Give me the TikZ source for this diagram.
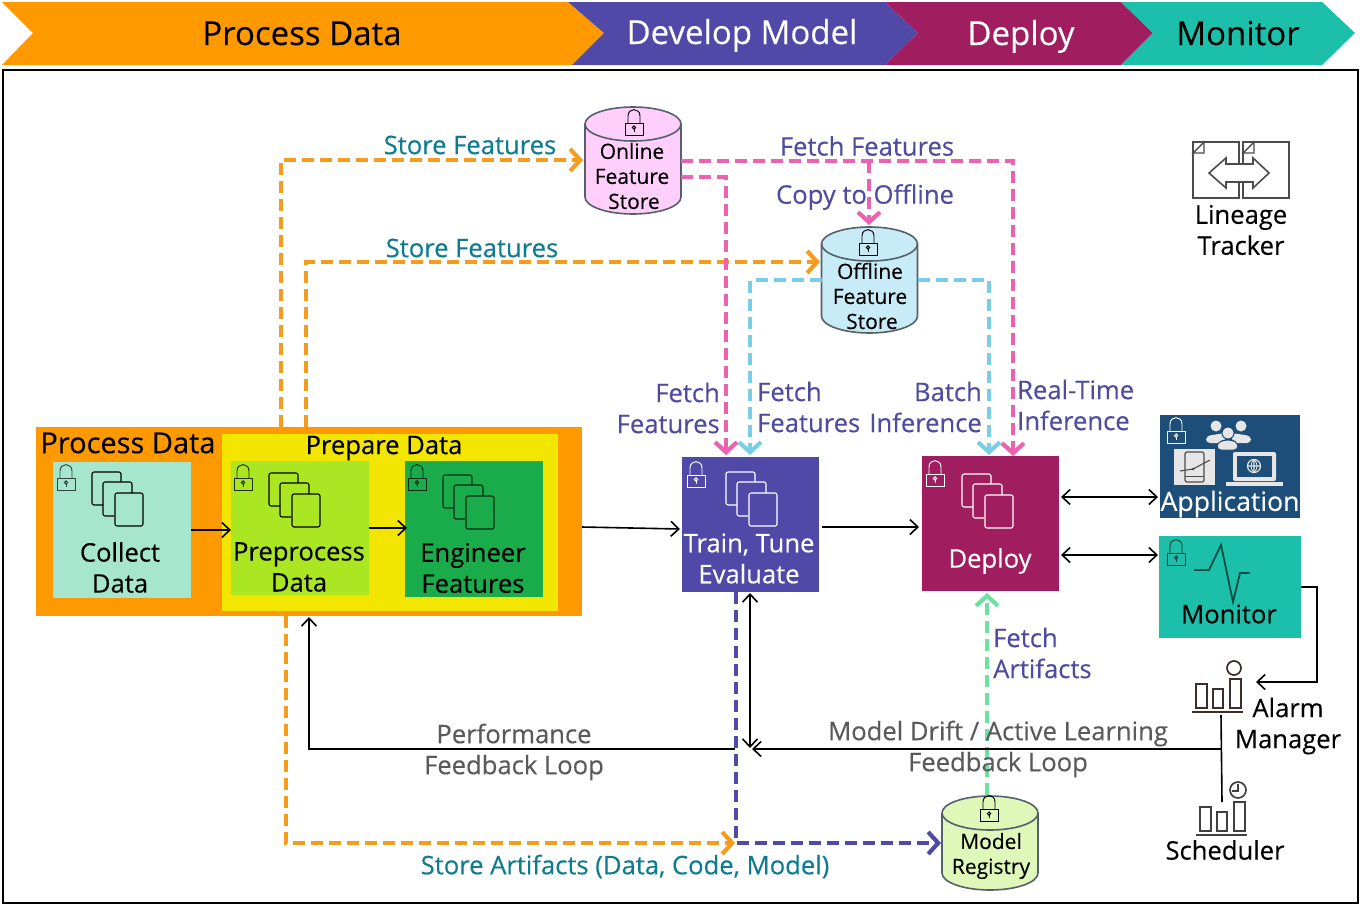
\documentclass[tikz,border=0pt]{standalone}
\usepackage{fontspec}
\setmainfont{Open Sans}[RawFeature={embolden=0.25}]
\usetikzlibrary{arrows.meta}
\definecolor{cOrange}{HTML}{FF9900}
\definecolor{cDash}{HTML}{F59C1E}
\definecolor{cPurple}{HTML}{5149A8}
\definecolor{cDeploy}{HTML}{A01E5F}
\definecolor{cMon}{HTML}{1CBFA9}
\definecolor{cPink}{HTML}{EC62B0}
\definecolor{cSky}{HTML}{79CDE6}
\definecolor{cGreen}{HTML}{6EE09F}
\definecolor{cTeal}{HTML}{0E7C90}
\definecolor{cFetch}{HTML}{4F4CA0}
\definecolor{cGray}{HTML}{5A5A5A}
\definecolor{cApp}{HTML}{1D4E79}
\definecolor{cIcon}{HTML}{3A2E2A}
\definecolor{cPrep}{HTML}{F2E600}
\definecolor{cCollect}{HTML}{A6E6CF}
\definecolor{cPre}{HTML}{ABE622}
\definecolor{cEng}{HTML}{1AAB4A}
\definecolor{cOnline}{HTML}{FFCFFB}
\definecolor{cOffline}{HTML}{C8ECF7}
\definecolor{cReg}{HTML}{DFF7B9}
\definecolor{cLight}{HTML}{E6E6E6}
\definecolor{cEdge}{HTML}{55606A}
\newcommand\fsz[2]{\fontsize{#1}{#2}\selectfont}
\tikzset{
  boxn/.style={anchor=north west,inner sep=0pt,outer sep=0pt,fill=#1},
  dbn/.style={anchor=north west,inner sep=0pt,outer sep=0pt,minimum width=96pt,minimum height=#1},
  band/.style={fill=#1,draw=none},
  head/.style={font=\fsz{33}{38},text=#1,inner sep=0pt,anchor=base},
  lbl/.style={font=\fsz{25.6}{31},align=center,text=#1,inner sep=0pt},
  dbl/.style={font=\fsz{21}{25},align=center,inner sep=0pt,text=black},
  arr/.style={draw=black,line width=1.6pt,-{Straight Barb[length=8pt,width=15pt,line width=1.6pt]}},
  darr/.style={draw=black,line width=1.6pt,{Straight Barb[length=8pt,width=15pt,line width=1.6pt]}-{Straight Barb[length=8pt,width=15pt,line width=1.6pt]}},
  plain/.style={draw=black,line width=1.6pt},
  dsh/.style={draw=#1,line width=4pt,dash pattern=on 12pt off 6pt,-{Straight Barb[length=10pt,width=22pt,line width=4.2pt]}}
}
% cylinder drawn over the named node #1: fill colour #2, height #3
\newcommand\dbcyl[3]{%
  \filldraw[fill=#2,draw=cEdge,line width=1.6pt] (#1.north west) ++(0,17)
    .. controls +(0,-9.4) and +(-26.5,0) .. ++(48,-17)
    .. controls +(26.5,0) and +(0,-9.4) .. ++(48,17)
    -- ++(0,#3-34)
    .. controls +(0,9.4) and +(26.5,0) .. ++(-48,17)
    .. controls +(-26.5,0) and +(0,9.4) .. ++(-48,-17)
    -- cycle;
  \draw[draw=cEdge,line width=1.6pt] (#1.north west) ++(0,17)
    .. controls +(0,9.4) and +(-26.5,0) .. ++(48,17)
    .. controls +(26.5,0) and +(0,9.4) .. ++(48,-17);
}
\newcommand\lockicon[3]{\begin{scope}[shift={(#1,#2)},draw=#3,line width=.95pt]
  \draw (0,13) rectangle (18,25);
  \draw (3,13) -- (3,6) .. controls (3,-2.5) and (15,-2.5) .. (15,6) -- (15,13);
  \draw (9,17.5) circle[radius=1.6pt];
  \draw (9,19.1) -- (9,22);
\end{scope}}
\newcommand\stackicon[3]{\begin{scope}[shift={(#1,#2)},draw=#3,line width=1.1pt,rounded corners=2pt]
  \draw (11,33) -- (0,33) -- (0,0) -- (29,0) -- (29,10);
  \draw (22,44) -- (11,44) -- (11,10) -- (40,10) -- (40,21);
  \draw (23,21) rectangle (51,54);
\end{scope}}
\newcommand\barsicon[3]{\begin{scope}[shift={(#1,#2)},draw=#3,line width=1.7pt]
  \draw (0,33) -- (51,33);
  \draw (4,29) rectangle (15,5);
  \draw (21,29) rectangle (31,10);
  \draw (38,29) rectangle (49,0);
\end{scope}}
\begin{document}
\begin{tikzpicture}[x=1pt,y=-1pt]
\useasboundingbox (0,0) rectangle (1362,905);
\fill[white] (0,0) rectangle (1362,905);
% phase band
\path[band=cOrange] (2,2) -- (568,2) -- (604,33) -- (572,65) -- (2,65) -- (33,33) -- cycle;
\path[band=cPurple] (568,2) -- (885,2) -- (918,33) -- (885,65) -- (572,65) -- (604,33) -- cycle;
\path[band=cDeploy] (885,2) -- (1121,2) -- (1153,33) -- (1121,65) -- (885,65) -- (918,33) -- cycle;
\path[band=cMon] (1121,2) -- (1322,2) -- (1355,33) -- (1322,65) -- (1121,65) -- (1153,33) -- cycle;
\node[head=black] (hProcess) at (302,45) {Process Data};
\node[head=white] (hDevelop) at (742,44) {Develop Model};
\node[head=white] (hDeploy) at (1021,45) {Deploy};
\node[head=black] (hMonitor) at (1238,45) {Monitor};
% frame
\draw[black,line width=2pt] (2.5,69.5) rectangle (1358,902.5);
% boxes
\node[boxn=cOrange,minimum width=546pt,minimum height=189pt] (proc) at (36,427) {};
\node[boxn=cPrep,minimum width=336pt,minimum height=177pt] (prep) at (222,434) {};
\node[boxn=cCollect,minimum width=138pt,minimum height=136pt] (collect) at (53,462) {};
\node[boxn=cPre,minimum width=138pt,minimum height=134pt] (preproc) at (231,461) {};
\node[boxn=cEng,minimum width=138pt,minimum height=136pt] (engineer) at (405,461) {};
\node[boxn=cPurple,minimum width=137pt,minimum height=135pt] (train) at (682,457) {};
\node[boxn=cDeploy,minimum width=137pt,minimum height=135pt] (deploy) at (922,456) {};
\node[boxn=cApp,minimum width=140pt,minimum height=103pt] (app) at (1160,415) {};
\node[boxn=cMon,minimum width=142pt,minimum height=102pt] (monitor) at (1159,536) {};
% cylinders
\node[dbn=107pt] (online) at (585,107) {};
\node[dbn=106pt] (offline) at (821.5,227) {};
\node[dbn=94pt] (registry) at (942,796) {};
\dbcyl{online}{cOnline}{107}
\dbcyl{offline}{cOffline}{106}
\dbcyl{registry}{cReg}{94}
% icons
\stackicon{92}{472}{black}
\stackicon{269}{473}{black}
\stackicon{443}{475}{black!75!cEng}
\stackicon{726}{472}{white}
\stackicon{962}{474}{white}
\lockicon{57}{465}{black!70!cCollect}
\lockicon{234}{465}{black!80!cPre}
\lockicon{408}{465}{black!75!cEng}
\lockicon{687}{462}{white}
\lockicon{926}{461}{white}
\lockicon{625}{110}{black}
\lockicon{859}{230}{black}
\lockicon{980}{796}{black}
\lockicon{1167}{418}{white}
\lockicon{1167}{540}{black!70!cMon}
% application artwork
\fill[cLight] (1216,426) circle[radius=5.5pt] (1241,426) circle[radius=5.5pt];
\fill[cLight,rounded corners=4pt] (1206,443) -- (1206,436) -- (1225,433) -- (1225,443) -- cycle;
\fill[cLight,rounded corners=4pt] (1251,443) -- (1251,436) -- (1232,433) -- (1232,443) -- cycle;
\fill[cLight,draw=cApp,line width=1pt] (1228,433) circle[radius=6pt];
\fill[cLight,draw=cApp,line width=1pt,rounded corners=4pt] (1217,450) -- (1217,443) -- (1224,440) -- (1232,440) -- (1238,443) -- (1238,450) -- cycle;
\fill[cLight] (1174,449) rectangle (1215,485);
\draw[black!70,line width=1.2pt,rounded corners=2pt] (1185,452) rectangle (1204,482);
\draw[black!70,line width=1pt] (1185,476) -- (1204,476);
\draw[black!70,line width=1.1pt] (1180,471) -- (1193,469) -- (1210,460);
\fill[black!70] (1193,469) circle[radius=1.5pt];
\fill[cLight,rounded corners=2pt] (1233,452) rectangle (1276,481);
\fill[cApp] (1237,456) rectangle (1272,477);
\fill[cLight] (1226,482) rectangle (1283,486);
\draw[cLight,line width=1.2pt] (1254,466) circle[radius=6.5pt] (1247.5,466) -- (1260.5,466) (1254,459.5) -- (1254,472.5);
\draw[cLight,line width=.8pt] (1254,459.5) .. controls (1250,463) and (1250,469) .. (1254,472.5) (1254,459.5) .. controls (1258,463) and (1258,469) .. (1254,472.5);
% monitor graph
\draw[black!60!cMon,line width=1.8pt] (1194,570) -- (1209,570) -- (1221,545) -- (1233,602) -- (1240,573) -- (1250,573);
% alarm + scheduler icons
\barsicon{1192}{679}{cIcon}
\draw[cIcon,line width=1.7pt] (1234,668) circle[radius=7pt];
\barsicon{1196}{802}{black!75}
\draw[black!75,line width=1.7pt] (1238,790) circle[radius=8pt] (1238,784) -- (1238,791) -- (1232,791);
% lineage tracker
\draw[black!70,line width=2.6pt] (1193,142) rectangle (1239,198) (1243,142) rectangle (1289,198);
\filldraw[fill=white,draw=black!70,line width=1.4pt] (1193,153) -- (1204,142) -- (1204,153) -- cycle (1243,153) -- (1254,142) -- (1254,153) -- cycle;
\filldraw[fill=white,draw=black!70,line width=1.6pt] (1209,173) -- (1226,158) -- (1226,164) -- (1253,164) -- (1253,158) -- (1269,173) -- (1253,188) -- (1253,182) -- (1226,182) -- (1226,188) -- cycle;
% connectors
\coordinate (s1) at (281,427);
\coordinate (s1e) at (583,160);
\coordinate (s2) at (306,427);
\coordinate (s2e) at (820,262);
\coordinate (s3) at (286,616);
\coordinate (s3e) at (735,843);
\coordinate (m1) at (736,592);
\coordinate (m1e) at (941,843);
\coordinate (f1) at (681,161);
\coordinate (f2) at (681,177);
\coordinate (f3) at (869,161);
\coordinate (f3e) at (869,225);
\coordinate (f1e) at (1013,456);
\coordinate (f2e) at (726,455);
\coordinate (o1) at (917.5,280);
\coordinate (o2) at (821.5,280);
\coordinate (o1e) at (989,455);
\coordinate (o2e) at (750,455);
\coordinate (g1) at (987,795);
\coordinate (g1e) at (987,593);
\draw[dsh=cDash] (s1) |- (s1e);
\draw[dsh=cDash] (s2) |- (s2e);
\draw[dsh=cDash] (s3) |- (s3e);
\draw[dsh=cPink] (f1) -| (f1e);
\draw[dsh=cPink] (f2) -| (f2e);
\draw[dsh=cPink] (f3) -- (f3e);
\draw[dsh=cSky] (o1) -| (o1e);
\draw[dsh=cSky] (o2) -| (o2e);
\draw[dsh=cPurple] (m1) |- (m1e);
\draw[dsh=cGreen] (g1) -- (g1e);
\coordinate (d1) at (1061,497);
\coordinate (d1e) at (1158,497);
\coordinate (d2) at (1061,555);
\coordinate (d2e) at (1158,555);
\coordinate (t1) at (750,593);
\coordinate (t1e) at (750,748);
\coordinate (p1) at (735,749);
\coordinate (p1e) at (309,617);
\coordinate (a1) at (1221,749);
\coordinate (a1e) at (752,749);
\coordinate (a2) at (1221,715);
\coordinate (a3) at (1222,802);
\coordinate (mo) at (1301,587);
\coordinate (moe) at (1256,682);
\coordinate (ce) at (231,530);
\coordinate (cs) at (191,530);
\coordinate (ps) at (369,528);
\coordinate (pe) at (407,528);
\coordinate (pr) at (582,527);
\coordinate (tr) at (680,529);
\coordinate (ts) at (822,527);
\coordinate (te) at (919,527);
\draw[arr] (cs) -- (ce);
\draw[arr] (ps) -- (pe);
\draw[arr] (pr) -- (tr);
\draw[arr] (ts) -- (te);
\draw[darr] (d1) -- (d1e);
\draw[darr] (d2) -- (d2e);
\draw[darr] (t1) -- (t1e);
\draw[arr] (p1) -| (p1e);
\draw[arr] (a1) -- (a1e);
\draw[plain] (a2) -- (a3);
\draw[arr] (mo) -- (1317,587) -- (1317,682) -- (moe);
% texts in boxes
\node[font=\fsz{29}{33},inner sep=0pt] (tProc) at (128,443) {Process Data};
\node[lbl=black] (tPrep) at (384,448) {Prepare Data};
\node[lbl=black] (tCollect) at (120,567.5) {Collect\\Data};
\node[lbl=black] (tPre) at (299,567) {Preprocess\\Data};
\node[lbl=black] (tEng) at (473,568) {Engineer\\Features};
\node[lbl=white] (tTrain) at (749,558.5) {Train, Tune\\Evaluate};
\node[lbl=white] (tDeploy) at (990,561) {Deploy};
\node[lbl=white,font=\fsz{26.6}{31}] (tApp) at (1230,504) {Application};
\node[lbl=black] (tMon) at (1229,614) {Monitor};
\node[dbl] (tOnline) at (632,176) {Online\\Feature\\\kern4pt Store};
\node[dbl] (tOffline) at (870,296) {Offline\\Feature\\\kern4pt Store};
\node[dbl] (tReg) at (991,856) {Model\\Registry};
% labels
\node[lbl=cTeal] (l1) at (470,145) {Store Features};
\node[lbl=cTeal] (l2) at (472,248) {Store Features};
\node[lbl=cFetch] (l3) at (867,146) {Fetch Features};
\node[lbl=cFetch] (l4) at (865,197) {Copy to Offline};
\node[lbl=cFetch,align=right,anchor=east] (l5) at (720,408) {Fetch\\Features};
\node[lbl=cFetch,align=left,anchor=west] (l6) at (757,407) {Fetch\\Features};
\node[lbl=cFetch,align=right,anchor=east] (l7) at (982,407) {Batch\\Inference};
\node[lbl=cFetch,align=left,anchor=west] (l8) at (1017,405) {Real-Time\\Inference};
\node[lbl=cFetch,align=left,anchor=west] (l9) at (993,653) {Fetch\\Artifacts};
\node[lbl=cGray] (l10) at (514,752) {Performance\\Feedback Loop};
\node[lbl=cGray] (l11) at (998,749) {Model Drift / Active Learning\\Feedback Loop};
\node[lbl=cTeal] (l12) at (625,866.5) {Store Artifacts (Data, Code, Model)};
\node[lbl=black] (l13) at (1241,230) {Lineage\\Tracker};
\node[lbl=black] (l14) at (1288,726) {Alarm\\Manager};
\node[lbl=black] (l15) at (1225,850) {Scheduler};
\end{tikzpicture}
\end{document}
